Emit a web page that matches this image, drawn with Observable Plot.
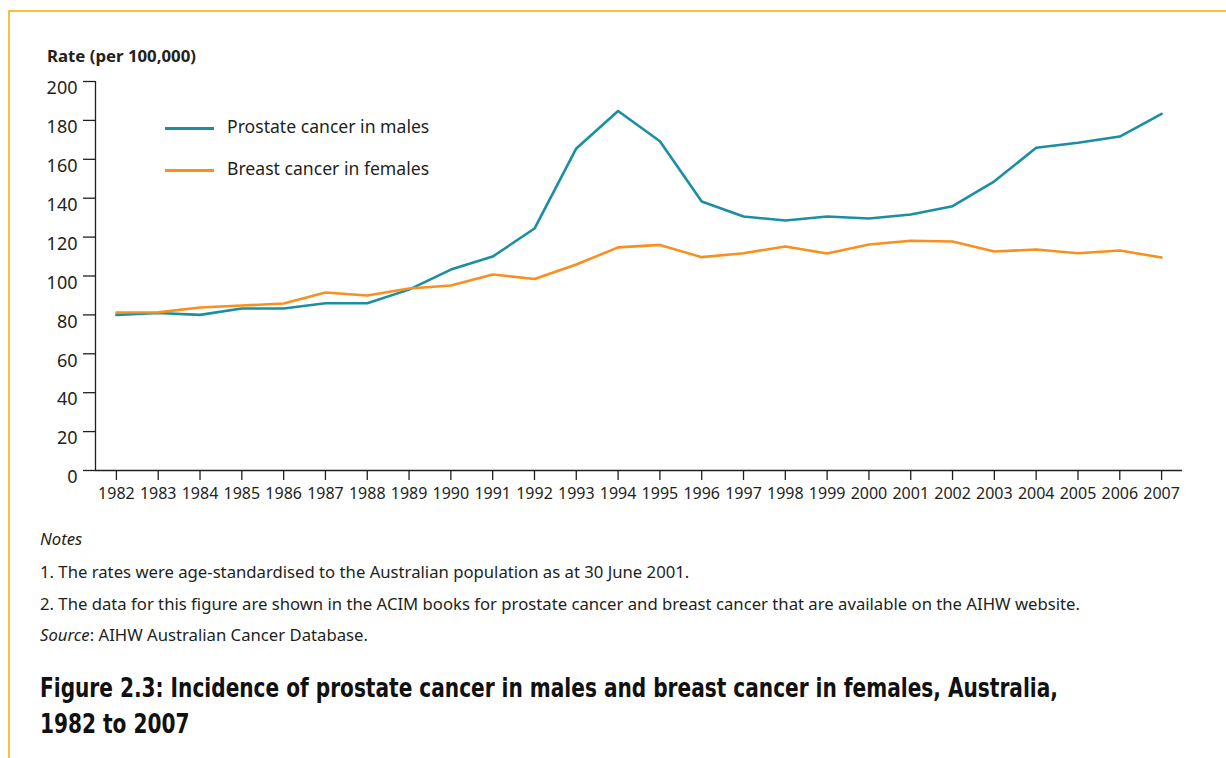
<!DOCTYPE html>
<html>
<head>
<meta charset="utf-8">
<script src="https://cdn.jsdelivr.net/npm/d3@7"></script>
<script src="https://cdn.jsdelivr.net/npm/@observablehq/plot@0.6"></script>
<style>
  html, body { margin: 0; padding: 0; background: #fff; }
  #page { position: relative; width: 1226px; height: 758px; overflow: hidden; font-family: "Noto Sans", sans-serif; color: #231f20; }
  #frame { position: absolute; left: 8px; top: 10px; right: -4px; bottom: -4px; border-top: 2px solid #f9c03a; border-left: 2px solid #f9c03a; }
  #chart { position: absolute; left: 0; top: 0; }
  .abs { position: absolute; white-space: nowrap; line-height: 1; }
  #ytitle { left: 47px; top: 48px; font-size: 16.8px; font-weight: bold; }
  .legline { position: absolute; left: 165px; width: 49px; height: 3px; }
  .legtext { left: 227px; font-size: 17.6px; }
  .note { left: 40px; font-size: 16.7px; }
  #title { position: absolute; left: 40px; top: 670px; font-family: "DejaVu Sans Condensed", "DejaVu Sans", sans-serif; font-stretch: condensed; font-weight: bold; font-size: 26px; line-height: 36px; white-space: nowrap; color: #111; transform: scaleX(0.86); transform-origin: 0 0; }
</style>
</head>
<body>
<div id="page">
  <div id="frame"></div>
  <div id="chart"></div>
  <div id="ytitle" class="abs">Rate (per 100,000)</div>
  <div id="legend"></div>
  <div class="abs note" style="top:531px;font-style:italic;">Notes</div>
  <div class="abs note" style="top:564px;">1. The rates were age-standardised to the Australian population as at 30 June 2001.</div>
  <div class="abs note" style="top:596px;">2. The data for this figure are shown in the ACIM books for prostate cancer and breast cancer that are available on the AIHW website.</div>
  <div class="abs note" style="top:627px;"><i>Source</i>: AIHW Australian Cancer Database.</div>
  <div id="title">Figure 2.3: Incidence of prostate cancer in males and breast cancer in females, Australia,<br>1982 to 2007</div>
</div>
<script>
const years = [1982,1983,1984,1985,1986,1987,1988,1989,1990,1991,1992,1993,1994,1995,1996,1997,1998,1999,2000,2001,2002,2003,2004,2005,2006,2007];
const prostate = [80,81,80,83.3,83.3,86,86,93,103.3,110,124.4,165.6,184.8,169.3,138.3,130.6,128.5,130.6,129.6,131.6,135.9,148.7,165.9,168.5,171.7,183.4];
const breast = [81.2,81.3,83.8,84.8,85.9,91.5,90,93.6,95.1,100.8,98.5,105.9,114.7,116,109.7,111.7,115.2,111.6,116.2,118.1,117.7,112.6,113.6,111.7,113.1,109.5];
const seriesNames = ["Prostate cancer in males", "Breast cancer in females"];
const seriesColors = ["#1a8fa1", "#f7901e"];
const yTicks = [0,20,40,60,80,100,120,140,160,180,200];

const data = [
  ...years.map((yr, i) => ({year: yr, value: prostate[i], series: seriesNames[0]})),
  ...years.map((yr, i) => ({year: yr, value: breast[i], series: seriesNames[1]}))
];
const xMin = d3.min(years) - 0.5, xMax = d3.max(years) + 0.5;

const chart = Plot.plot({
  width: 1226,
  height: 520,
  marginLeft: 95,
  marginRight: 44,
  marginTop: 81,
  marginBottom: 50,
  style: {fontFamily: "Noto Sans", color: "#231f20", background: "transparent", overflow: "visible"},
  x: {type: "linear", domain: [xMin, xMax], label: null},
  y: {domain: [0, 200], label: null},
  color: {domain: seriesNames, range: seriesColors},
  marks: [
    Plot.axisY({ticks: yTicks, tickSize: 12, text: null, strokeWidth: 1.3}),
    Plot.axisY({ticks: yTicks, tickSize: 0, tickPadding: 18, dy: 7, fontSize: 18, tickFormat: d => String(d)}),
    Plot.axisX({ticks: years, tickSize: 10, tickPadding: 7, fontSize: 16, tickFormat: d => String(d), strokeWidth: 1.3}),
    Plot.ruleY([0], {stroke: "#231f20", strokeWidth: 1.3}),
    Plot.ruleX([xMin], {y1: 0, y2: 200, stroke: "#231f20", strokeWidth: 1.3}),
    Plot.line(data, {x: "year", y: "value", z: "series", stroke: "series", strokeWidth: 2.6})
  ]
});
document.getElementById("chart").appendChild(chart);

const legend = document.getElementById("legend");
const legendTops = [128, 170];
seriesNames.forEach((name, i) => {
  const ln = document.createElement("div");
  ln.className = "legline";
  ln.style.top = (legendTops[i] - 1.5) + "px";
  ln.style.background = seriesColors[i];
  legend.appendChild(ln);
  const tx = document.createElement("div");
  tx.className = "abs legtext";
  tx.style.top = (legendTops[i] - 10) + "px";
  tx.textContent = name;
  legend.appendChild(tx);
});
</script>
</body>
</html>
